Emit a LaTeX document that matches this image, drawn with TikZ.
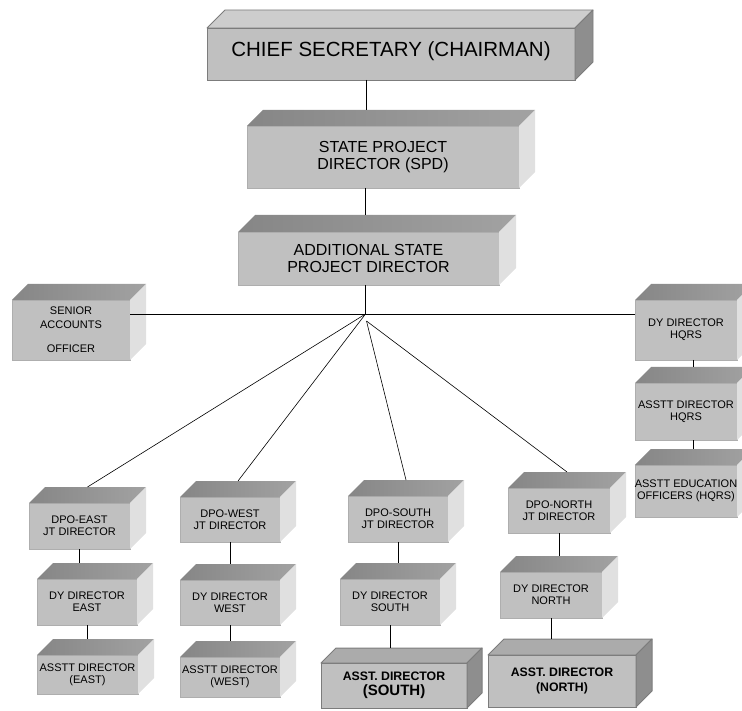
\documentclass[tikz,border=0pt]{standalone}
\usepackage{fontspec}
\setmainfont{Liberation Sans}
\usetikzlibrary{calc}

\definecolor{frontgray}{HTML}{C0C0C0}
\definecolor{edgegray}{HTML}{AEAEAE}
\definecolor{topdark}{HTML}{868686}
\definecolor{toplight}{HTML}{A2A2A2}
\definecolor{sidelight}{HTML}{E0E0E0}
\definecolor{boldedge}{HTML}{7C7C7C}
\definecolor{boldtop}{HTML}{ABABAB}
\definecolor{boldside}{HTML}{8E8E8E}
\definecolor{headtop}{HTML}{CDCDCD}

\tikzset{
  face/.style={inner sep=0pt, outer sep=0pt, align=center, fill=frontgray, text=black},
  % ordinary cuboid: dark top, pale side
  plain/.style={face, draw=edgegray, line width=0.4pt, font=\fontsize{11}{12}\selectfont},
  plain top/.style={left color=topdark, right color=toplight, draw=none},
  plain side/.style={fill=sidelight, draw=none},
  % larger cuboids near the top
  large/.style={plain, font=\fontsize{16}{16.5}\selectfont},
  large top/.style={plain top},
  large side/.style={plain side},
  % outlined cuboid: pale top, dark side
  bold/.style={face, draw=boldedge, line width=1pt, font=\fontsize{12.3}{14.5}\selectfont\bfseries},
  bold top/.style={fill=boldtop, draw=boldedge, line width=1pt, line join=round},
  bold side/.style={fill=boldside, draw=boldedge, line width=1pt, line join=round},
  head/.style={face, draw=boldedge, line width=0.8pt, font=\fontsize{20.5}{22}\selectfont},
  head top/.style={fill=headtop, draw=boldedge, line width=0.8pt, line join=round},
  head side/.style={fill=boldside, draw=boldedge, line width=0.8pt, line join=round},
  link/.style={draw=black, line width=0.6pt},
  thicklink/.style={draw=black, line width=1.6pt}
}

% #1 style, #2 name, #3 #4 upper-left corner, #5 #6 lower-right corner of the front face,
% #7 depth of the cuboid, #8 text
\newcommand\cube[8]{%
  \node[#1, minimum width={(#5-#3)*1pt}, minimum height={(#6-#4)*1pt}]
    (#2) at ({(#3+#5)/2},{(#4+#6)/2}) {#8};
  \path[#1 top] (#2.north west) -- ++(#7,-#7) -- ($(#2.north east)+(#7,-#7)$)
    -- (#2.north east) -- cycle;
  \path[#1 side] (#2.north east) -- ++(#7,-#7) -- ($(#2.south east)+(#7,-#7)$)
    -- (#2.south east) -- cycle;
  \coordinate (#2-top) at ($(#2.north)+(#7/2,-#7)$);
}

\begin{document}
\begin{tikzpicture}[x=1pt, y=-1pt]
  \useasboundingbox (0,0) rectangle (742,711);
  \clip (0,0) rectangle (742,711);

  % upper hierarchy
  \cube{head}{chief}{207}{28}{575}{80}{18}{\raisebox{9pt}{CHIEF SECRETARY (CHAIRMAN)}}
  \cube{large}{spd}{247}{126}{519}{188}{16}{STATE PROJECT\\DIRECTOR (SPD)}
  \cube{large}{aspd}{238}{232}{499}{285}{17}{ADDITIONAL STATE\\PROJECT DIRECTOR}

  % side branches
  \cube{plain}{senior}{12}{300}{130}{360}{16}{SENIOR\\[2pt]ACCOUNTS\\[12pt]OFFICER}
  \cube{plain}{hq1}{635}{300}{737}{360}{16}{DY DIRECTOR\\HQRS}
  \cube{plain}{hq2}{635}{383}{737}{440}{16}{ASSTT DIRECTOR\\HQRS}
  \cube{plain}{hq3}{635}{465}{737}{517}{16}{ASSTT EDUCATION\\OFFICERS (HQRS)}

  % district columns
  \cube{plain}{east1}{29}{503}{130}{549}{16}{DPO-EAST\\JT DIRECTOR}
  \cube{plain}{east2}{37}{579}{137}{625}{16}{DY DIRECTOR\\EAST}
  \cube{plain}{east3}{37}{655}{138}{694}{16}{ASSTT DIRECTOR\\(EAST)}

  \cube{plain}{west1}{180}{497}{280}{542}{16}{DPO-WEST\\JT DIRECTOR}
  \cube{plain}{west2}{180}{580}{280}{625}{16}{DY DIRECTOR\\WEST}
  \cube{plain}{west3}{180}{657}{280}{697}{16}{ASSTT DIRECTOR\\(WEST)}

  \cube{plain}{south1}{348}{496}{448}{542}{16}{DPO-SOUTH\\JT DIRECTOR}
  \cube{plain}{south2}{340}{579}{440}{625}{16}{DY DIRECTOR\\SOUTH}
  \cube{bold}{south3}{321}{663}{467}{708}{15}{ASST. DIRECTOR\\{\fontsize{15}{16}\selectfont(SOUTH)}}

  \cube{plain}{north1}{508}{488}{610}{533}{16}{DPO-NORTH\\JT DIRECTOR}
  \cube{plain}{north2}{500}{572}{602}{618}{16}{DY DIRECTOR\\NORTH}
  \cube{bold}{north3}{488}{655}{636}{707}{16}{ASST. DIRECTOR\\(NORTH)}

  % trunk
  \draw[thicklink] ([xshift=-2pt]chief.south -| aspd.north) -- ([xshift=-2pt]spd-top -| aspd.north);
  \draw[link] ([xshift=-3pt]spd.south -| aspd.north) -- ([xshift=-3pt]aspd-top -| aspd.north);
  \path ([xshift=-3pt]aspd.south) ++(0,29) coordinate (hub);
  \path (hub) ++(1,7) coordinate (hubb);
  \draw[link] ([xshift=-3pt]aspd.south) -- (hub);
  \draw[link] (senior.east |- hub) -- (hq1.west |- hub);

  % fan to the districts
  \draw[link] (hub) -- (east1-top);
  \draw[link] (hub) -- (west1-top);
  \draw[link] (hubb) -- (south1-top);
  \draw[link] (hubb) -- (north1-top);

  % chains within the columns
  \foreach \a/\b in {east1/east2, east2/east3, west1/west2, west2/west3,
                     south1/south2, south2/south3, north1/north2, north2/north3}
    \draw[link] (\a.south) -- (\a.south |- \b-top);
  \foreach \a/\b in {hq1/hq2, hq2/hq3}
    \draw[link] ([xshift=7pt]\a.south) -- ([xshift=7pt]\a.south |- \b-top);
\end{tikzpicture}
\end{document}
